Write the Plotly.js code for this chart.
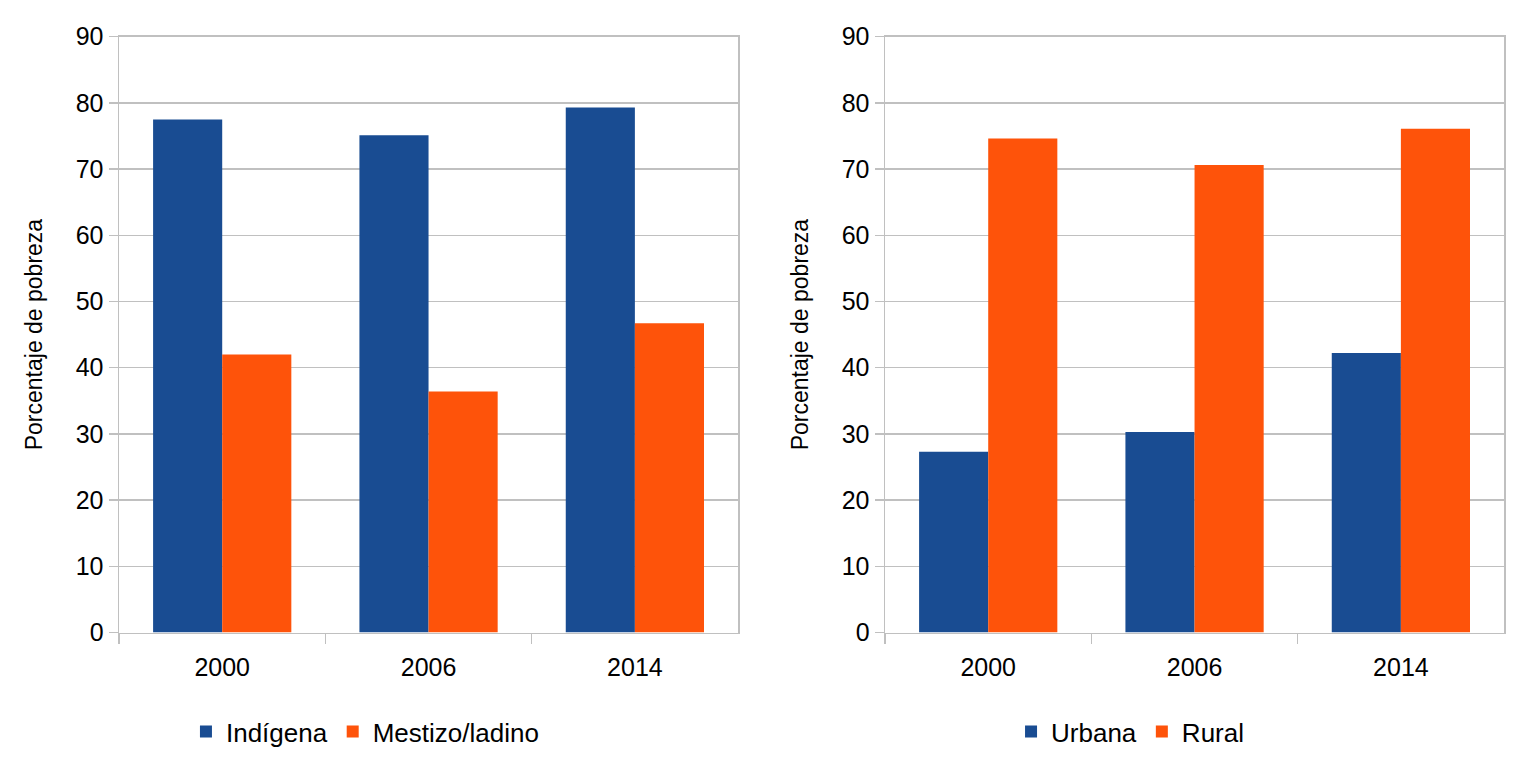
<!DOCTYPE html>
<html>
<head>
<meta charset="utf-8">
<script src="https://cdn.plot.ly/plotly-3.0.1.min.js"></script>
<style>html,body{margin:0;padding:0;background:#fff;}#chart{width:1536px;height:763px;}</style>
</head>
<body>
<div id="chart"></div>
<script>
const years = ["2000", "2006", "2014"];
const indigena = [77.5, 75.1, 79.3];
const mestizo = [42.0, 36.4, 46.7];
const urbana = [27.3, 30.3, 42.2];
const rural = [74.6, 70.6, 76.1];
const yTicks = [0, 10, 20, 30, 40, 50, 60, 70, 80, 90];

const blue = "#194c92";
const orange = "#fe530a";
const grid = "#c0c0c0";
const font = "Liberation Sans, Arial, sans-serif";

const traces = [
  {type: "bar", x: years, y: indigena, name: "Indígena", marker: {color: blue}, xaxis: "x", yaxis: "y", legend: "legend"},
  {type: "bar", x: years, y: mestizo, name: "Mestizo/ladino", marker: {color: orange}, xaxis: "x", yaxis: "y", legend: "legend"},
  {type: "bar", x: years, y: urbana, name: "Urbana", marker: {color: blue}, xaxis: "x2", yaxis: "y2", legend: "legend2"},
  {type: "bar", x: years, y: rural, name: "Rural", marker: {color: orange}, xaxis: "x2", yaxis: "y2", legend: "legend2"}
];

function xa(domain, anchor) {
  return {domain: domain, anchor: anchor, type: "category", showline: true, linecolor: grid, linewidth: 1.5,
    mirror: true, ticks: "outside", tickson: "boundaries", ticklen: 10, tickcolor: grid, tickwidth: 1.5,
    ticklabelstandoff: 12,
    showgrid: false, tickfont: {size: 25, color: "#000", family: font}, fixedrange: true};
}
function ya(domain, anchor) {
  return {domain: domain, anchor: anchor, range: [0, 90], tickvals: yTicks, showline: true, linecolor: grid,
    linewidth: 1.5, mirror: true, ticks: "outside", ticklen: 9, tickcolor: grid, tickwidth: 1.5,
    showgrid: true, gridcolor: grid, gridwidth: 1.5, zeroline: false,
    tickfont: {size: 25, color: "#000", family: font},
    title: {text: "Porcentaje de pobreza", font: {size: 23, color: "#000", family: font}, standoff: 26}};
}

const layout = {
  width: 1536, height: 763, autosize: false,
  margin: {l: 0, r: 0, t: 0, b: 0},
  paper_bgcolor: "#fff", plot_bgcolor: "#fff",
  font: {family: font, color: "#000"},
  barmode: "group", bargap: 0.33, bargroupgap: 0,
  xaxis: xa([0.0775, 0.4805], "y"),
  yaxis: ya([0.171, 0.952], "x"),
  xaxis2: xa([0.5762, 0.9792], "y2"),
  yaxis2: ya([0.171, 0.952], "x2"),
  legend: {orientation: "h", x: 0.2376, xanchor: "center", y: 0.041, yanchor: "middle",
    font: {size: 26, family: font, color: "#000"}, itemwidth: 30, tracegroupgap: 0},
  legend2: {orientation: "h", x: 0.7357, xanchor: "center", y: 0.041, yanchor: "middle",
    font: {size: 26, family: font, color: "#000"}, itemwidth: 30, tracegroupgap: 0},
  showlegend: true
};

Plotly.newPlot("chart", traces, layout, {displayModeBar: false, staticPlot: true});
</script>
</body>
</html>
